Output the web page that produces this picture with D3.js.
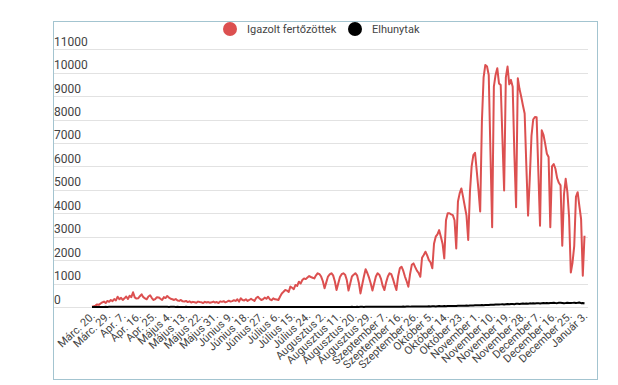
<!DOCTYPE html>
<html>
<head>
<meta charset="utf-8">
<script src="https://cdn.jsdelivr.net/npm/d3@7"></script>
<style>
  body { margin: 0; background: #fff; }
  text { font-family: Roboto, "Noto Sans", sans-serif; }
</style>
</head>
<body>
<svg id="chart" width="618" height="385"></svg>
<script>
var seriesNames = ["Igazolt fertőzöttek", "Elhunytak"]

var tickLabels = ["Márc. 20.", "Márc. 29.", "Apr. 7.", "Apr. 16.", "Apr. 25.", "Május 4.", "Május 13.",
  "Május 22.", "Május 31.", "Június 9.", "Június 18.", "Június 27.", "Július 6.", "Július 15.",
  "Július 24.", "Augusztus 2.", "Augusztus 11.", "Augusztus 20.", "Augusztus 29.", "Szeptember 7.",
  "Szeptember 16.", "Szeptember 26.", "Október 5.", "Október 14.", "Október 23.", "November 1.",
  "November 10.", "November 19.", "November 28.", "December 7.", "December 16.", "December 25.", "Január 3."]

var yTicks = [0, 1000, 2000, 3000, 4000, 5000, 6000, 7000, 8000, 9000, 10000, 11000]

// daily values, one per day from Márc. 20 to Január 3
var confirmed = [
  10, 30, 60, 110, 90, 150, 200, 230, 170, 260,
  220, 300, 250, 340, 280, 440, 330, 390, 300, 370,
  450, 340, 480, 420, 630, 410, 360, 370, 460, 540,
  420, 370, 330, 450, 500, 380, 300, 340, 420, 410,
  350, 300, 420, 380, 470, 400, 350, 330, 300, 340,
  280, 260, 300, 240, 230, 260, 210, 240, 190, 220,
  200, 180, 230, 210, 200, 170, 220, 190, 210, 180,
  200, 230, 190, 210, 170, 240, 220, 250, 200, 230,
  270, 230, 250, 290, 260, 330, 230, 370, 300, 280,
  330, 260, 300, 350, 300, 260, 380, 440, 360, 300,
  330, 400, 350, 440, 330, 290, 370, 330, 320, 300,
  450, 580, 650, 725, 700, 640, 870, 820, 760, 940,
  900, 1080, 1000, 1150, 1220, 1190, 1260, 1320, 1280, 1250,
  1220, 1350, 1440, 1400, 1300, 1100, 800, 1050, 1300, 1390,
  1440, 1350, 1100, 725, 1000, 1280, 1400, 1440, 1380, 1150,
  700, 1000, 1300, 1380, 1440, 1350, 1050, 580, 950, 1300,
  1610, 1450, 1250, 1000, 700, 1000, 1300, 1440, 1380, 1200,
  900, 725, 1050, 1300, 1440, 1400, 1200, 950, 725, 1300,
  1650, 1720, 1550, 1300, 1100, 866, 1400, 1800, 1860, 1700,
  1550, 1450, 1290, 2100, 2218, 2360, 2200, 2000, 1900, 1650,
  2700, 3000, 3100, 3280, 3000, 2700, 2075, 3700, 4000, 4000,
  3950, 3920, 3700, 2500, 4500, 4850, 5060, 4700, 4300, 3900,
  2857, 4900, 6000, 6480, 6580, 5800, 5000, 4080, 7900, 9800,
  10330, 10260, 9900, 6600, 3400, 9400, 9900, 10190, 9540, 9470,
  7200, 4970, 9800, 10260, 9500, 9690, 9400, 6500, 4260, 9760,
  9300, 8970, 8600, 8260, 6000, 3900, 5500, 7300, 8000, 8110,
  8100, 5800, 3470, 7540, 7350, 6970, 6540, 6400, 3400, 6000,
  6100, 5900, 5500, 5300, 5190, 2610, 4800, 5470, 4900, 3830,
  1470, 1900, 2610, 4700, 4900, 4300, 3760, 1330, 3040
]

var deaths = [
  1, 2, 1, 3, 2, 4, 3, 5, 6, 4,
  8, 7, 10, 9, 11, 8, 12, 10, 13, 11,
  14, 12, 9, 13, 15, 11, 10, 14, 12, 9,
  11, 13, 10, 8, 12, 9, 11, 10, 7, 9,
  8, 10, 6, 9, 7, 5, 8, 6, 7, 5,
  6, 4, 5, 3, 4, 6, 3, 2, 4, 3,
  2, 3, 1, 2, 4, 1, 2, 1, 3, 2,
  1, 0, 2, 1, 0, 1, 2, 0, 1, 1,
  0, 1, 0, 2, 1, 0, 1, 0, 0, 1,
  0, 1, 0, 0, 1, 0, 0, 1, 0, 0,
  1, 0, 0, 1, 0, 1, 0, 0, 2, 0,
  1, 0, 1, 0, 0, 1, 0, 1, 0, 0,
  1, 0, 2, 1, 0, 1, 0, 1, 2, 1,
  0, 2, 1, 3, 1, 2, 0, 1, 2, 3,
  2, 1, 3, 2, 4, 3, 2, 5, 3, 4,
  5, 4, 6, 3, 5, 7, 4, 6, 8, 5,
  7, 9, 6, 8, 10, 7, 9, 11, 8, 10,
  12, 9, 11, 14, 10, 13, 15, 12, 14, 16,
  13, 15, 18, 14, 17, 20, 16, 19, 22, 18,
  21, 24, 19, 23, 26, 22, 25, 28, 24, 27,
  30, 26, 34, 38, 32, 36, 40, 35, 42, 45,
  40, 44, 48, 43, 50, 55, 49, 53, 58, 60,
  56, 62, 68, 64, 70, 75, 71, 78, 82, 76,
  85, 90, 84, 95, 100, 93, 105, 110, 102, 112,
  118, 108, 120, 126, 115, 130, 128, 122, 135, 140,
  132, 138, 145, 136, 150, 142, 155, 148, 160, 152,
  158, 165, 150, 162, 170, 158, 172, 164, 175, 168,
  180, 170, 165, 178, 185, 172, 160, 168, 182, 175,
  168, 176, 185, 170, 178, 190, 165, 172, 150
]

var colors = ["#dc5050", "#000000"]

var svg = d3.select("#chart")

// frame
svg.append("rect")
    .attr("x", 53.5)
    .attr("y", 21.5)
    .attr("width", 544)
    .attr("height", 358)
    .attr("fill", "none")
    .attr("stroke", "#a3c4d0")

var x = d3.scaleLinear()
    .domain([0, confirmed.length - 1])
    .range([92, 584.5])

var y = d3.scaleLinear()
    .domain([0, 11000])
    .range([307, 49.2])

// gridlines + labels sitting above them
svg.selectAll("grid")
    .data(yTicks).enter()
    .append("line")
        .attr("x1", 54)
        .attr("x2", 588)
        .attr("y1", function(d){ return Math.round(y(d)) + 0.5 })
        .attr("y2", function(d){ return Math.round(y(d)) + 0.5 })
        .attr("stroke", "#e2e2e2")

svg.selectAll("ylabels")
    .data(yTicks).enter()
    .append("text")
        .attr("x", 54)
        .attr("y", function(d){ return y(d) - 3.5 })
        .attr("font-size", 12)
        .attr("fill", "#444")
        .text(function(d){ return d })

// x tick labels, every 9th day
svg.selectAll("xlabels")
    .data(tickLabels).enter()
    .append("text")
        .attr("transform", function(d,i){ return "translate(" + (x(i*9) + 1) + ",314) rotate(-43)" })
        .attr("text-anchor", "end")
        .attr("dy", ".35em")
        .attr("font-size", 11)
        .attr("fill", "#444")
        .text(function(d){ return d })

var line = d3.line()
    .x(function(d,i){ return x(i) })
    .y(function(d){ return y(d) })

svg.append("path")
    .datum(confirmed)
    .attr("d", line)
    .attr("fill", "none")
    .attr("stroke", colors[0])
    .attr("stroke-width", 2)
    .attr("stroke-linejoin", "round")

svg.append("path")
    .datum(deaths)
    .attr("d", line)
    .attr("fill", "none")
    .attr("stroke", colors[1])
    .attr("stroke-width", 2)
    .attr("stroke-linejoin", "round")

// legend
var legendX = [230, 355]

svg.selectAll("legdots")
    .data(seriesNames).enter()
    .append("circle")
        .attr("cx", function(d,i){ return legendX[i] })
        .attr("cy", 29)
        .attr("r", 7)
        .attr("fill", function(d,i){ return colors[i] })

svg.selectAll("legtext")
    .data(seriesNames).enter()
    .append("text")
        .attr("x", function(d,i){ return legendX[i] + 17 })
        .attr("y", 33)
        .attr("font-size", 11)
        .attr("fill", "#444")
        .text(function(d){ return d })
</script>
</body>
</html>
